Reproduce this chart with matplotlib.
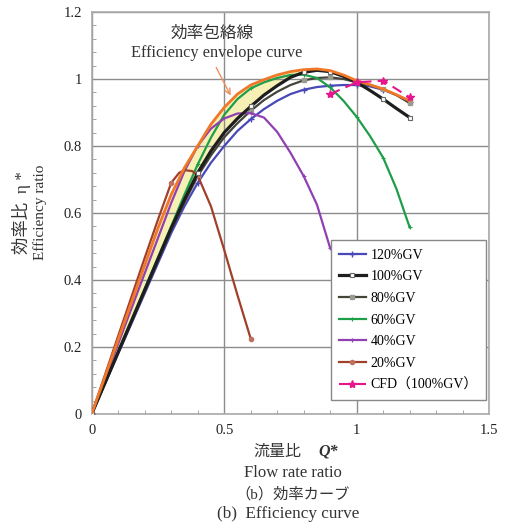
import matplotlib
matplotlib.use("Agg")
import matplotlib.pyplot as plt
from matplotlib.ticker import MultipleLocator, FuncFormatter

plt.rcParams['font.family'] = ['Liberation Serif', 'Noto Sans CJK JP', 'DejaVu Sans']

# ---- data ----
q_main = [0, 0.1, 0.2, 0.3, 0.35, 0.4, 0.45, 0.5, 0.55, 0.6, 0.65, 0.7, 0.75,
          0.8, 0.85, 0.9, 0.95, 1.0, 1.05, 1.1, 1.15, 1.2]
eta_120 = [0, 0.18, 0.36, 0.54, 0.62, 0.69, 0.75, 0.80, 0.845, 0.88, 0.91, 0.935, 0.955,
           0.968, 0.976, 0.980, 0.982, 0.982, 0.978, 0.968, 0.952, 0.932]
eta_100 = [0, 0.185, 0.37, 0.555, 0.64, 0.72, 0.785, 0.84, 0.882, 0.918, 0.952, 0.98, 1.005,
           1.02, 1.026, 1.022, 1.008, 0.99, 0.966, 0.94, 0.912, 0.885]
eta_80 = [0, 0.183, 0.366, 0.55, 0.632, 0.71, 0.772, 0.826, 0.868, 0.905, 0.937, 0.962, 0.982,
          0.996, 1.003, 1.005, 1.0, 0.99, 0.982, 0.97, 0.952, 0.928]
eta_60 = [0, 0.187, 0.374, 0.56, 0.655, 0.745, 0.825, 0.893, 0.94, 0.972, 0.99, 1.003, 1.012,
          1.013, 1.003, 0.975, 0.935, 0.887, 0.83, 0.765, 0.672, 0.557]

q_40 = [0, 0.1, 0.2, 0.3, 0.35, 0.4, 0.45, 0.5, 0.55, 0.6, 0.65, 0.7, 0.75, 0.8, 0.85, 0.9]
eta_40 = [0, 0.21, 0.42, 0.63, 0.725, 0.80, 0.852, 0.882, 0.897, 0.898, 0.885, 0.842, 0.78,
          0.71, 0.625, 0.495]

q_20 = [0, 0.1, 0.2, 0.25, 0.3, 0.33, 0.35, 0.38, 0.4, 0.45, 0.5, 0.55, 0.6]
eta_20 = [0, 0.233, 0.466, 0.58, 0.69, 0.72, 0.728, 0.725, 0.712, 0.62, 0.49, 0.355, 0.225]

q_cfd = [0.9, 1.0, 1.1, 1.2]
eta_cfd = [0.955, 0.990, 0.995, 0.945]

q_env = [0, 0.1, 0.2, 0.25, 0.3, 0.35, 0.4, 0.45, 0.5, 0.55, 0.6, 0.65, 0.7, 0.75, 0.8,
         0.85, 0.9, 0.95, 1.0, 1.05, 1.1, 1.15, 1.2]
eta_env = [0, 0.222, 0.444, 0.555, 0.655, 0.735, 0.80, 0.865, 0.915, 0.955, 0.982, 0.998,
           1.012, 1.022, 1.028, 1.03, 1.025, 1.012, 0.995, 0.983, 0.97, 0.953, 0.935]
eta_band_low = [0, 0.185, 0.37, 0.462, 0.555, 0.64, 0.72, 0.785, 0.84, 0.882, 0.918, 0.952,
                0.98, 1.005, 1.02, 1.026, 1.022, 1.01, 0.995, 0.983, 0.97, 0.953, 0.935]

labels = ['120%GV', '100%GV', '80%GV', '60%GV', '40%GV', '20%GV', 'CFD（100%GV）']

# marker positions (indices in the arrays above)
mk_main = [0, 5, 9, 13, 15, 17, 19, 21]
mk_40 = [0, 5, 9, 13, 15]
mk_20 = [0, 4, 8, 12]

# ---- figure ----
W, H = 506, 525
fig = plt.figure(figsize=(W / 100, H / 100), dpi=100)
L, R, B, T = 91.7, 489.2, 414, 12
ax = fig.add_axes([L / W, 1 - B / H, (R - L) / W, (B - T) / H])

ax.fill_between(q_env, eta_band_low, eta_env, color='#f6f0b4', zorder=1, lw=0)

ax.plot(q_main, eta_120, color='#4848b8', lw=1.6, marker='+', ms=4, mew=1, markevery=mk_main,
        label=labels[0], zorder=3)
ax.plot(q_main, eta_80, color='#44443a', lw=1.6, marker='s', ms=3.2, mfc='#9a9a90', mec='#9a9a90',
        markevery=mk_main, label=labels[2], zorder=3)
ax.plot(q_main, eta_100, color='#1e1e1e', lw=2.3, marker='s', ms=3.5, mfc='white', mec='#666666',
        mew=0.8, markevery=mk_main, label=labels[1], zorder=4)
ax.plot(q_main, eta_60, color='#1f9e4a', lw=1.6, marker='+', ms=3.5, mew=0.8, markevery=mk_main,
        label=labels[3], zorder=3)
ax.plot(q_40, eta_40, color='#9040b0', lw=1.6, marker='+', ms=3.5, mew=0.8, markevery=mk_40,
        label=labels[4], zorder=3)
ax.plot(q_20, eta_20, color='#a0402a', lw=1.6, marker='o', ms=3, mfc='#c07060', mec='#c07060',
        markevery=mk_20, label=labels[5], zorder=3)
ax.plot(q_env, eta_env, color='#f07828', lw=2.0, zorder=5)
ax.plot(q_cfd, eta_cfd, color='#e8148c', lw=1.5, ls=(0, (5, 3)), marker='*', ms=6,
        label=labels[6], zorder=6)

ax.set_xlim(0, 1.5)
ax.set_ylim(0, 1.2)
ax.xaxis.set_major_locator(MultipleLocator(0.5))
ax.xaxis.set_minor_locator(MultipleLocator(0.1))
ax.yaxis.set_major_locator(MultipleLocator(0.2))
ax.yaxis.set_minor_locator(MultipleLocator(0.04))
ax.xaxis.set_major_formatter(FuncFormatter(lambda v, p: f'{v:g}'))
ax.yaxis.set_major_formatter(FuncFormatter(lambda v, p: f'{v:g}'))
ax.tick_params(which='both', direction='in', colors='#999999', labelcolor='#222222', labelsize=10.5)
ax.tick_params(which='major', length=0, pad=7)
ax.tick_params(which='minor', length=3)
ax.grid(which='major', color='#8c8c8c', lw=1.0, zorder=0)
for s in ax.spines.values():
    s.set_color('#aaaaaa')
    s.set_linewidth(1.2)

handles, labs = ax.get_legend_handles_labels()
order = [labs.index(l) for l in labels]
leg = ax.legend([handles[i] for i in order], [labs[i] for i in order],
                loc='lower right', bbox_to_anchor=(0.992, 0.035), fontsize=10,
                frameon=True, fancybox=False, framealpha=1, edgecolor='#888888',
                labelspacing=0.62, handlelength=1.9, borderpad=0.6, handletextpad=0.35,
                borderaxespad=0)
leg.get_frame().set_linewidth(1.0)

ax.annotate('', xy=(0.529, 0.943), xytext=(0.465, 1.042),
            arrowprops=dict(arrowstyle='->', color='#f09060', lw=1.0), zorder=7)
ax.text(0.455, 1.137, '効率包絡線', ha='center', va='center', fontsize=12,
        family=['Noto Sans CJK JP'], color='#333333')
ax.text(0.47, 1.077, 'Efficiency envelope curve', ha='center', va='center', fontsize=11.8,
        color='#333333')

def ft(px, py, s, **kw):
    fig.text(px / W, 1 - py / H, s, **kw)

ft(22, 212, '効率比  η *', rotation=90, ha='center', va='center', fontsize=12.5, color='#333333')
ft(40, 212, 'Efficiency ratio', rotation=90, ha='center', va='center', fontsize=11, color='#333333')
ft(277, 452, '流量比', ha='center', va='center', fontsize=11.5, color='#333333')
ft(328, 451, 'Q*', ha='center', va='center', fontsize=11.5, style='italic', weight='bold', color='#333333')
ft(293, 473, 'Flow rate ratio', ha='center', va='center', fontsize=12, color='#333333')
ft(293, 494, '（b）効率カーブ', ha='center', va='center', fontsize=11, color='#333333')
ft(288, 514, '(b)  Efficiency curve', ha='center', va='center', fontsize=12.3, color='#333333')

fig.savefig('out.png', dpi=100)
